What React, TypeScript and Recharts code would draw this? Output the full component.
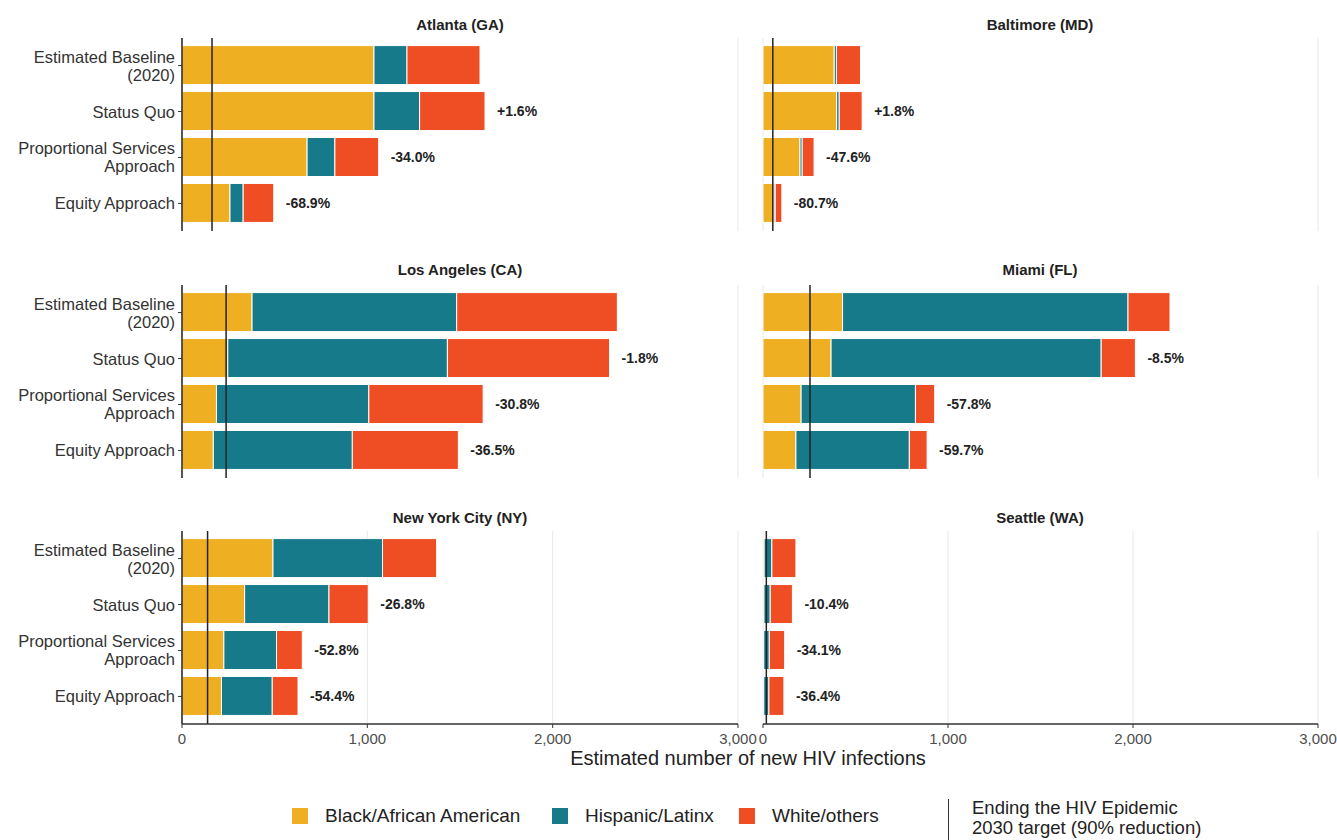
import { BarChart, Bar, XAxis, YAxis, CartesianGrid, ReferenceLine, LabelList } from 'recharts'

const CITIES = ['Atlanta (GA)', 'Baltimore (MD)', 'Los Angeles (CA)', 'Miami (FL)', 'New York City (NY)', 'Seattle (WA)']

const SCENARIOS = ['Estimated Baseline\n(2020)', 'Status Quo', 'Proportional Services\nApproach', 'Equity Approach']

// one row per city, one value per scenario
const blackAfricanAmerican = [
    [1036, 1036, 675, 259],
    [385, 398, 200, 60],
    [378, 247, 186, 169],
    [430, 368, 206, 178],
    [491, 338, 226, 213],
    [6, 5, 4, 4],
]

const hispanicLatinx = [
    [178, 246, 150, 71],
    [12, 14, 12, 6],
    [1104, 1185, 822, 750],
    [1543, 1460, 618, 613],
    [591, 455, 284, 274],
    [42, 34, 30, 28],
]

const whiteOthers = [
    [394, 353, 236, 165],
    [130, 124, 64, 36],
    [867, 875, 617, 572],
    [227, 185, 104, 96],
    [292, 212, 139, 139],
    [130, 120, 83, 81],
]

const changeLabels = [
    ['', '+1.6%', '-34.0%', '-68.9%'],
    ['', '+1.8%', '-47.6%', '-80.7%'],
    ['', '-1.8%', '-30.8%', '-36.5%'],
    ['', '-8.5%', '-57.8%', '-59.7%'],
    ['', '-26.8%', '-52.8%', '-54.4%'],
    ['', '-10.4%', '-34.1%', '-36.4%'],
]

// Ending the HIV Epidemic 2030 target per city
const targets = [162, 53, 238, 254, 138, 18]

const X_TICKS = [0, 1000, 2000, 3000]

const GOLD = '#EFAF22'
const TEAL = '#167A8B'
const RED = '#EF4E24'
const FONT = '"Liberation Sans", Arial, sans-serif'

const ROW_TOPS = [37.5, 284.5, 531]
const TITLE_Y = [25, 270, 518]
const PLOT_H = 193

const ScenarioTick = (props: any) => {
    const { x, y, payload } = props
    const lines = String(payload.value).split('\n')
    return (
        <g>
            {lines.map((line, i) => (
                <text
                    key={i}
                    x={x}
                    y={y + (i - (lines.length - 1) / 2) * 18}
                    textAnchor="end"
                    dominantBaseline="central"
                    fontSize={16.5}
                    fill="#333"
                    fontFamily={FONT}
                >
                    {line}
                </text>
            ))}
        </g>
    )
}

const ChangeLabel = (props: any) => {
    const { x, y, width, height, value } = props
    if (!value) return null
    return (
        <text
            x={x + width + 12}
            y={y + height / 2}
            dominantBaseline="central"
            fontSize={14}
            fontWeight="bold"
            fill="#222"
            fontFamily={FONT}
        >
            {value}
        </text>
    )
}

function Panel({ index }: { index: number }) {
    const isLeft = index % 2 === 0
    const row = Math.floor(index / 2)
    const isBottom = row === 2
    const axisH = isBottom ? 30 : 0

    const data = SCENARIOS.map((name, i) => ({
        name,
        black: blackAfricanAmerican[index][i],
        hispanic: hispanicLatinx[index][i],
        white: whiteOthers[index][i],
        pct: changeLabels[index][i],
    }))

    const centerX = isLeft ? 460 : 1040

    return (
        <>
            <div
                style={{
                    position: 'absolute',
                    left: centerX - 150,
                    width: 300,
                    top: TITLE_Y[row] - 9,
                    lineHeight: '18px',
                    textAlign: 'center',
                    fontWeight: 'bold',
                    fontSize: 15,
                    color: '#222',
                }}
            >
                {CITIES[index]}
            </div>
            <div style={{ position: 'absolute', left: isLeft ? 0 : 741, top: ROW_TOPS[row] }}>
                <BarChart
                    width={isLeft ? 760 : 596}
                    height={PLOT_H + axisH}
                    data={data}
                    layout="vertical"
                    margin={{ top: 0, right: isLeft ? 22 : 19, bottom: 0, left: isLeft ? 0 : 22 }}
                >
                    <CartesianGrid horizontal={false} stroke="#e8e8e8" />
                    {isBottom ? (
                        <XAxis
                            type="number"
                            domain={[0, 3000]}
                            ticks={X_TICKS}
                            height={axisH}
                            axisLine={{ stroke: '#333', strokeWidth: 1.5 }}
                            tickLine={{ stroke: '#333' }}
                            tickSize={4}
                            tickMargin={5}
                            tick={{ fill: '#4d4d4d', fontSize: 15, fontFamily: FONT }}
                            tickFormatter={(v: number) => v.toLocaleString('en-US')}
                        />
                    ) : (
                        <XAxis
                            type="number"
                            domain={[0, 3000]}
                            ticks={X_TICKS}
                            height={0}
                            tick={false}
                            axisLine={false}
                            tickLine={false}
                        />
                    )}
                    <YAxis
                        type="category"
                        dataKey="name"
                        hide={!isLeft}
                        width={182}
                        padding={{ top: 4.6, bottom: 4.6 }}
                        axisLine={{ stroke: '#222', strokeWidth: 1.5 }}
                        tickLine={{ stroke: '#333' }}
                        tickSize={4}
                        tickMargin={3}
                        tick={<ScenarioTick />}
                        interval={0}
                    />
                    <Bar dataKey="black" stackId="a" fill={GOLD} stroke="#fff" strokeWidth={1} barSize={39} isAnimationActive={false} />
                    <Bar dataKey="hispanic" stackId="a" fill={TEAL} stroke="#fff" strokeWidth={1} barSize={39} isAnimationActive={false} />
                    <Bar dataKey="white" stackId="a" fill={RED} stroke="#fff" strokeWidth={1} barSize={39} isAnimationActive={false}>
                        <LabelList dataKey="pct" content={<ChangeLabel />} />
                    </Bar>
                    <ReferenceLine x={targets[index]} stroke="#222" strokeWidth={1.5} />
                </BarChart>
            </div>
        </>
    )
}

export default function App() {
    const legendItems = [
        { label: 'Black/African American', color: GOLD, x: 292 },
        { label: 'Hispanic/Latinx', color: TEAL, x: 552 },
        { label: 'White/others', color: RED, x: 739 },
    ]

    return (
        <div
            style={{
                position: 'absolute',
                left: 0,
                top: 0,
                width: 1337,
                height: 840,
                background: '#fff',
                overflow: 'hidden',
                fontFamily: FONT,
            }}
        >
            {CITIES.map((_c, i) => (
                <Panel key={i} index={i} />
            ))}

            <div
                style={{
                    position: 'absolute',
                    left: 448,
                    width: 600,
                    top: 747,
                    lineHeight: '22px',
                    textAlign: 'center',
                    fontSize: 20,
                    color: '#222',
                }}
            >
                Estimated number of new HIV infections
            </div>

            {legendItems.map((item) => (
                <div key={item.label}>
                    <div
                        style={{
                            position: 'absolute',
                            left: item.x,
                            top: 808,
                            width: 16,
                            height: 16,
                            background: item.color,
                        }}
                    />
                    <div
                        style={{
                            position: 'absolute',
                            left: item.x + 33,
                            top: 805,
                            lineHeight: '22px',
                            fontSize: 19,
                            color: '#222',
                            whiteSpace: 'nowrap',
                        }}
                    >
                        {item.label}
                    </div>
                </div>
            ))}

            <div style={{ position: 'absolute', left: 947.5, top: 799, width: 1.5, height: 41, background: '#333' }} />
            <div
                style={{
                    position: 'absolute',
                    left: 972,
                    top: 798,
                    lineHeight: '20px',
                    fontSize: 18.5,
                    color: '#222',
                    whiteSpace: 'nowrap',
                }}
            >
                Ending the HIV Epidemic
                <br />
                2030 target (90% reduction)
            </div>
        </div>
    )
}
